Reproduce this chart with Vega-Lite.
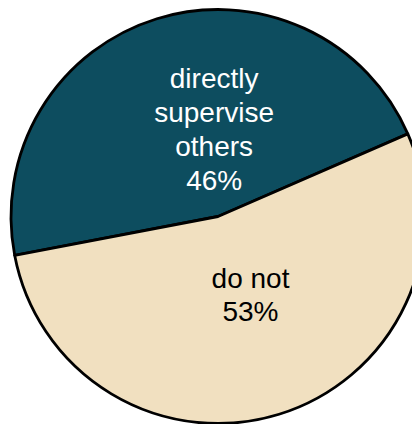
{
  "$schema": "https://vega.github.io/schema/vega-lite/v6.json",
  "width": 414,
  "height": 414,
  "autosize": "none",
  "padding": {"left": 11, "top": 9.5, "right": 0, "bottom": 0},
  "background": "white",
  "config": {"view": {"stroke": null}},
  "data": {
    "values": [
      {"group": "directly supervise others", "value": 46, "label": "directly\nsupervise\nothers\n46%"},
      {"group": "do not", "value": 53, "label": "do not\n53%"}
    ]
  },
  "encoding": {
    "theta": {"field": "value", "type": "quantitative", "stack": true, "scale": {"range": [-1.7593, 4.5239]}},
    "order": {"field": "group", "type": "ordinal", "sort": "ascending"}
  },
  "layer": [
    {
      "mark": {"type": "arc", "stroke": "black", "strokeWidth": 2.8, "strokeJoin": "round"},
      "encoding": {
        "color": {
          "field": "group",
          "type": "nominal",
          "scale": {"domain": ["directly supervise others", "do not"], "range": ["#0D4D5F", "#F1E0C0"]},
          "legend": null
        }
      }
    },
    {
      "mark": {"type": "text", "radius": 91, "dx": 23, "dy": -49.5, "font": "Liberation Sans", "fontSize": 28, "lineHeight": 34, "lineBreak": "\n", "align": "center", "baseline": "middle", "color": "white"},
      "encoding": {
        "text": {"condition": {"test": "datum.group === 'directly supervise others'", "field": "label"}, "value": ""}
      }
    },
    {
      "mark": {"type": "text", "radius": 83, "dx": 8, "dy": -15.5, "font": "Liberation Sans", "fontSize": 28, "lineHeight": 33, "lineBreak": "\n", "align": "center", "baseline": "middle", "color": "black"},
      "encoding": {
        "text": {"condition": {"test": "datum.group === 'do not'", "field": "label"}, "value": ""}
      }
    }
  ]
}
